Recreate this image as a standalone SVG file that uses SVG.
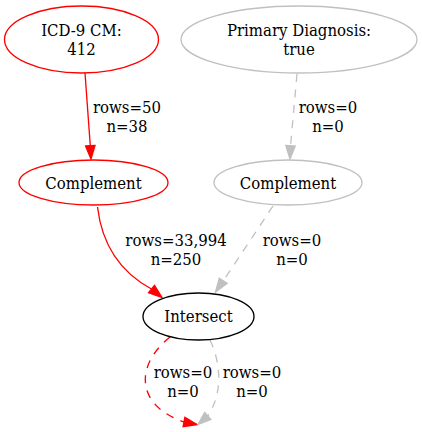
<svg xmlns="http://www.w3.org/2000/svg" width="422" height="432" viewBox="0 0 422 432">
<style>
text{font-family:'DejaVu Serif Condensed','DejaVu Serif',serif;font-stretch:condensed;font-size:16.6px;fill:#000;text-anchor:middle}
.n{fill:none;stroke-width:1.33}
.red{stroke:#ff0000}
.grey{stroke:#c0c0c0}
.blk{stroke:#000}
.dash{stroke-dasharray:8,7.5}
.ar{fill:#ff0000;stroke:#ff0000;stroke-width:1.33}
.ag{fill:#c0c0c0;stroke:#c0c0c0;stroke-width:1.33}
</style>
<rect width="422" height="432" fill="#fff"/>
<g id="connectors">
<g id="e1">
<path class="n red" d="M85,73 L90.3,146"/>
<polygon class="ar" points="85.6,146 95,145.4 91,159"/>
<text><tspan x="127" y="112.6">rows=50</tspan><tspan x="127" y="132">n=38</tspan></text>
</g>
<g id="e2">
<path class="n grey dash" d="M297,74 L290.5,146"/>
<polygon class="ag" points="285.8,145.4 295.2,146 290,159"/>
<text><tspan x="328" y="112.6">rows=0</tspan><tspan x="328" y="132">n=0</tspan></text>
</g>
<g id="e3">
<path class="n red" d="M97.5,207 C102,245 120,272 151.5,289"/>
<polygon class="ar" points="148.5,292.7 154.5,285.3 162,297.5"/>
<text><tspan x="176" y="246">rows=33,994</tspan><tspan x="176" y="265.4">n=250</tspan></text>
</g>
<g id="e4">
<path class="n grey dash" d="M273,206 L223.3,280.9"/>
<polygon class="ag" points="227.2,283.4 219.3,278.3 215.5,292"/>
<text><tspan x="292" y="246">rows=0</tspan><tspan x="292" y="265.4">n=0</tspan></text>
</g>
<g id="e5">
<path class="n red dash" d="M170,337 C135,365 135,405 184,422"/>
<polygon class="ar" points="183.1,426.6 184.9,417.4 197,424.5"/>
<text><tspan x="183" y="377.8">rows=0</tspan><tspan x="183" y="397.2">n=0</tspan></text>
</g>
<g id="e6">
<path class="n grey dash" d="M210,340 C222,365 222,395 207.8,415.9"/>
<polygon class="ag" points="210.9,419.4 204.7,412.4 198,424.5"/>
<text><tspan x="252" y="377.8">rows=0</tspan><tspan x="252" y="397.2">n=0</tspan></text>
</g>
</g>
<g id="icd">
<ellipse class="n red" cx="81.5" cy="39.5" rx="77" ry="33.5"/>
<text><tspan x="81.5" y="35.8">ICD-9 CM:</tspan><tspan x="81.5" y="55.2">412</tspan></text>
</g>
<g id="primary">
<ellipse class="n grey" cx="299" cy="39.5" rx="118" ry="33.5"/>
<text><tspan x="299" y="35.8">Primary Diagnosis:</tspan><tspan x="299" y="55.2">true</tspan></text>
</g>
<g id="complement1">
<ellipse class="n red" cx="93.5" cy="182.5" rx="74.5" ry="22.5"/>
<text x="93.5" y="189">Complement</text>
</g>
<g id="complement2">
<ellipse class="n grey" cx="288" cy="182.5" rx="74" ry="22.5"/>
<text x="288" y="189">Complement</text>
</g>
<g id="intersect">
<ellipse class="n blk" cx="198.5" cy="316.5" rx="55.5" ry="23.5"/>
<text x="198.5" y="322">Intersect</text>
</g>
</svg>
